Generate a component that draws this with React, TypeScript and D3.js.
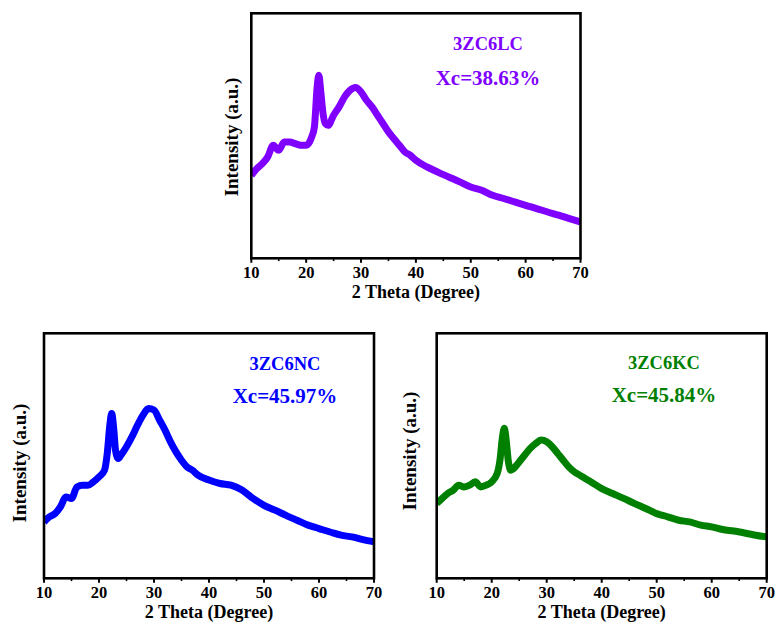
import React from "react";
import * as d3 from "d3";

// 2θ positions (degrees) at which each pattern was sampled
const thetaLC = [10, 11, 12, 13, 14, 15, 16, 17, 18, 19, 20, 21, 21.5, 22, 22.3, 22.7, 23, 23.5, 24, 25, 26, 27, 28, 29, 30, 31, 32, 33, 34, 35, 36, 37, 38, 39, 40, 42, 44, 46, 48, 50, 52, 54, 56, 58, 60, 62, 64, 66, 68, 70];
const intensityLC = [33.9, 36.6, 38.6, 41.4, 46.1, 44.1, 47.5, 47.5, 46.8, 46.1, 46.1, 49.5, 53.6, 69.9, 74.7, 67.2, 60.4, 55.0, 54.3, 58.4, 61.8, 65.9, 68.6, 69.7, 67.9, 64.5, 61.8, 58.4, 55.0, 51.6, 48.8, 46.1, 43.4, 42.0, 40.0, 37.3, 35.2, 33.2, 31.2, 29.1, 27.8, 25.7, 24.4, 23.0, 21.6, 20.3, 18.9, 17.6, 16.2, 14.8];

const thetaNC = [10, 11, 12, 13, 14, 15, 16, 17, 18, 19, 20, 21, 21.5, 22, 22.3, 22.7, 23, 23.5, 24, 25, 26, 27, 28, 29, 30, 31, 32, 33, 34, 35, 36, 37, 38, 40, 42, 44, 46, 48, 50, 52, 54, 56, 58, 60, 62, 64, 66, 68, 70];
const intensityNC = [23.0, 25.1, 26.4, 29.2, 33.2, 32.6, 37.3, 38.0, 38.0, 39.4, 41.4, 44.1, 51.0, 63.2, 67.3, 60.5, 52.3, 48.9, 50.3, 53.7, 57.8, 62.5, 66.6, 69.3, 68.7, 64.6, 60.5, 55.7, 51.6, 48.2, 45.5, 44.1, 42.1, 40.1, 38.7, 38.0, 36.0, 32.6, 29.8, 27.8, 25.7, 23.7, 21.7, 20.3, 18.9, 17.6, 16.9, 15.8, 14.9];

const thetaKC = [10, 11, 12, 13, 14, 15, 16, 17, 18, 19, 20, 21, 21.5, 22, 22.3, 22.7, 23, 23.5, 24, 25, 26, 27, 28, 29, 30, 31, 32, 33, 34, 35, 36, 37, 38, 40, 42, 44, 46, 48, 50, 52, 54, 56, 58, 60, 62, 64, 66, 68, 70];
const intensityKC = [30.5, 32.6, 34.6, 36.0, 38.0, 37.3, 38.0, 39.4, 37.3, 38.0, 39.4, 42.8, 48.2, 58.4, 61.2, 55.0, 48.2, 44.1, 44.8, 47.5, 50.3, 53.0, 55.0, 56.4, 55.7, 53.7, 51.0, 48.2, 45.5, 43.5, 42.1, 40.7, 39.4, 36.6, 34.6, 32.6, 30.5, 28.5, 26.4, 25.1, 23.7, 23.0, 21.7, 21.0, 19.9, 19.3, 18.5, 17.6, 16.9];

const sampleNames = ["3ZC6LC", "3ZC6NC", "3ZC6KC"];
const crystallinity = ["Xc=38.63%", "Xc=45.97%", "Xc=45.84%"];

const majorTicks = [10, 20, 30, 40, 50, 60, 70];
const minorTicks = [15, 25, 35, 45, 55, 65];

const xTitle = "2 Theta (Degree)";
const yTitle = "Intensity (a.u.)";

const FONT = "'Liberation Serif', 'Times New Roman', serif";

interface PanelSpec {
  left: number;
  right: number;
  top: number;
  bottom: number;
  theta: number[];
  intensity: number[];
  color: string;
  name: string;
  xc: string;
  labelX: number;
  nameY: number;
  xcY: number;
  yTitleX: number;
  yTitleY: number;
}

const panels: PanelSpec[] = [
  {
    left: 251.3, right: 580.5, top: 13.3, bottom: 258.3,
    theta: thetaLC, intensity: intensityLC, color: "#8000ff",
    name: sampleNames[0], xc: crystallinity[0],
    labelX: 488, nameY: 50, xcY: 85, yTitleX: 238, yTitleY: 137,
  },
  {
    left: 44, right: 374, top: 333.3, bottom: 578.3,
    theta: thetaNC, intensity: intensityNC, color: "#0000ff",
    name: sampleNames[1], xc: crystallinity[1],
    labelX: 285, nameY: 370, xcY: 403, yTitleX: 26, yTitleY: 463,
  },
  {
    left: 436.7, right: 766.7, top: 333.3, bottom: 578.3,
    theta: thetaKC, intensity: intensityKC, color: "#008000",
    name: sampleNames[2], xc: crystallinity[2],
    labelX: 664, nameY: 369, xcY: 402, yTitleX: 416, yTitleY: 451,
  },
];

function Panel({ p, idx }: { p: PanelSpec; idx: number }) {
  const x = d3.scaleLinear().domain([10, 70]).range([p.left, p.right]);
  const y = d3.scaleLinear().domain([0, 100]).range([p.bottom, p.top]);
  const pts = p.theta.map((t, i) => [t, p.intensity[i]] as [number, number]);
  const line = d3
    .line<[number, number]>()
    .x((d) => x(d[0]))
    .y((d) => y(d[1]))
    .curve(d3.curveMonotoneX);
  const clipId = `clip-${idx}`;
  return (
    <g>
      <defs>
        <clipPath id={clipId}>
          <rect x={p.left} y={p.top} width={p.right - p.left} height={p.bottom - p.top} />
        </clipPath>
      </defs>
      <path
        d={line(pts) || ""}
        fill="none"
        stroke={p.color}
        strokeWidth={7}
        strokeLinejoin="round"
        strokeLinecap="butt"
        clipPath={`url(#${clipId})`}
      />
      <rect
        x={p.left}
        y={p.top}
        width={p.right - p.left}
        height={p.bottom - p.top}
        fill="none"
        stroke="#000"
        strokeWidth={2.6}
      />
      {majorTicks.map((t) => (
        <g key={`M${t}`}>
          <line x1={x(t)} x2={x(t)} y1={p.bottom} y2={p.bottom + 4.5} stroke="#000" strokeWidth={2} />
          <text
            x={x(t)}
            y={p.bottom + 20}
            textAnchor="middle"
            fontFamily={FONT}
            fontWeight="bold"
            fontSize={16.5}
            fill="#000"
          >
            {t}
          </text>
        </g>
      ))}
      {minorTicks.map((t) => (
        <line key={`m${t}`} x1={x(t)} x2={x(t)} y1={p.bottom} y2={p.bottom + 2.8} stroke="#000" strokeWidth={1.6} />
      ))}
      <text
        x={(p.left + p.right) / 2}
        y={p.bottom + 40}
        textAnchor="middle"
        fontFamily={FONT}
        fontWeight="bold"
        fontSize={18}
        fill="#000"
      >
        {xTitle}
      </text>
      <text
        transform={`translate(${p.yTitleX},${p.yTitleY}) rotate(-90)`}
        textAnchor="middle"
        fontFamily={FONT}
        fontWeight="bold"
        fontSize={19}
        fill="#000"
      >
        {yTitle}
      </text>
      <text
        x={p.labelX}
        y={p.nameY}
        textAnchor="middle"
        fontFamily={FONT}
        fontWeight="bold"
        fontSize={18.5}
        fill={p.color}
      >
        {p.name}
      </text>
      <text
        x={p.labelX}
        y={p.xcY}
        textAnchor="middle"
        fontFamily={FONT}
        fontWeight="bold"
        fontSize={21}
        fill={p.color}
      >
        {p.xc}
      </text>
    </g>
  );
}

export default function App() {
  return (
    <svg
      width={777}
      height={626}
      viewBox="0 0 777 626"
      style={{ position: "absolute", left: 0, top: 0, background: "#fff" }}
    >
      <rect width={777} height={626} fill="#fff" />
      {panels.map((p, i) => (
        <Panel key={p.name} p={p} idx={i} />
      ))}
    </svg>
  );
}
